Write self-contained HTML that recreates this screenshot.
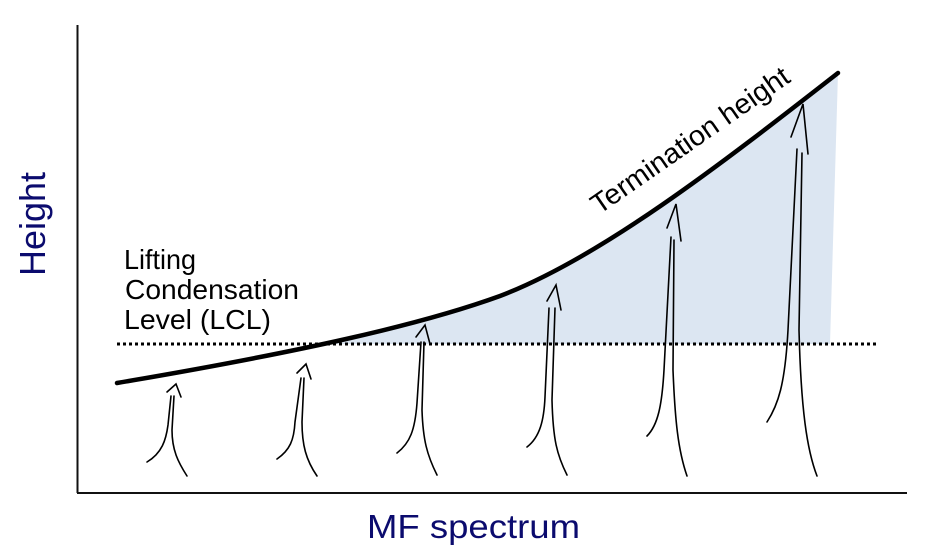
<!DOCTYPE html>
<html>
<head>
<meta charset="utf-8">
<style>
  html, body { margin: 0; padding: 0; background: #ffffff; }
  svg { display: block; }
</style>
</head>
<body>
<svg width="927" height="558" viewBox="0 0 927 558" xmlns="http://www.w3.org/2000/svg">
  <defs>
    <clipPath id="above">
      <rect x="0" y="0" width="927" height="344"/>
    </clipPath>
  </defs>
  <rect x="0" y="0" width="927" height="558" fill="#ffffff"/>

  <!-- shaded region -->
  <path clip-path="url(#above)" fill="#dce6f2"
        d="M117,383 C300,352 420,325 500,296 C600,258 720,165 838,73 L830,344 L117,344 Z"/>

  <!-- axes -->
  <line x1="77.5" y1="25" x2="77.5" y2="493" stroke="#111" stroke-width="2"/>
  <line x1="77" y1="493" x2="907" y2="493" stroke="#111" stroke-width="2"/>

  <!-- LCL dotted line -->
  <line x1="117" y1="344" x2="877" y2="344" stroke="#000" stroke-width="3" stroke-dasharray="3,3"/>

  <!-- termination height curve -->
  <path fill="none" stroke="#000" stroke-width="4.5" stroke-linecap="round"
        d="M117,383 C300,352 420,325 500,296 C600,258 720,165 838,73"/>

  <!-- updraft arrows -->
  <g fill="none" stroke="#000" stroke-width="1.6" stroke-linecap="round" stroke-linejoin="miter">
    <!-- 1 -->
    <path d="M147,462 C162,453 166,440 168,425 L171,396"/>
    <path d="M187,476 C178,462 172,450 172,430 L174,396"/>
    <path d="M167,392 L176,384 L181,397"/>
    <!-- 2 -->
    <path d="M277,459 C290,450 294,440 295,422 L301,378"/>
    <path d="M317,476 C306,460 302,445 302,422 L304,378"/>
    <path d="M297,373 L306,364 L311,379"/>
    <!-- 3 -->
    <path d="M397,453 C410,443 415,430 417,403 L421,342"/>
    <path d="M437,475 C427,455 423,440 422,410 L424,342"/>
    <path d="M416,337 L425,325 L430,344"/>
    <!-- 4 -->
    <path d="M527,447 C540,437 544,420 545,397 L549,308"/>
    <path d="M567,475 C557,455 553,440 552,400 L555,308"/>
    <path d="M547,301 L556,285 L561,310"/>
    <!-- 5 -->
    <path d="M647,436 C658,425 662,405 664,370 L671,237"/>
    <path d="M687,476 C678,450 675,420 673,370 L674,240"/>
    <path d="M667,228 L676,204 L681,241"/>
    <!-- 6 -->
    <path d="M767,422 C778,405 785,385 788,330 L797,149"/>
    <path d="M817,476 C807,450 801,410 799,330 L802,153"/>
    <path d="M791,137 L803,104 L808,154"/>
  </g>

  <!-- labels -->
  <g font-family="'Liberation Sans', Arial, sans-serif" fill="#000">
    <text x="124" y="269" font-size="28" textLength="72" lengthAdjust="spacingAndGlyphs">Lifting</text>
    <text x="125" y="299" font-size="28" textLength="174" lengthAdjust="spacingAndGlyphs">Condensation</text>
    <text x="124" y="329" font-size="28" textLength="147" lengthAdjust="spacingAndGlyphs">Level (LCL)</text>
    <text transform="translate(599,215) rotate(-34.8)" font-size="28" textLength="235" lengthAdjust="spacingAndGlyphs">Termination height</text>
  </g>

  <g font-family="'Liberation Sans', Arial, sans-serif" fill="#0b0b6e">
    <text transform="translate(45,224) rotate(-90)" text-anchor="middle" font-size="36" textLength="104" lengthAdjust="spacingAndGlyphs">Height</text>
    <text x="367" y="538" font-size="33" textLength="213" lengthAdjust="spacingAndGlyphs">MF spectrum</text>
  </g>
</svg>
</body>
</html>
